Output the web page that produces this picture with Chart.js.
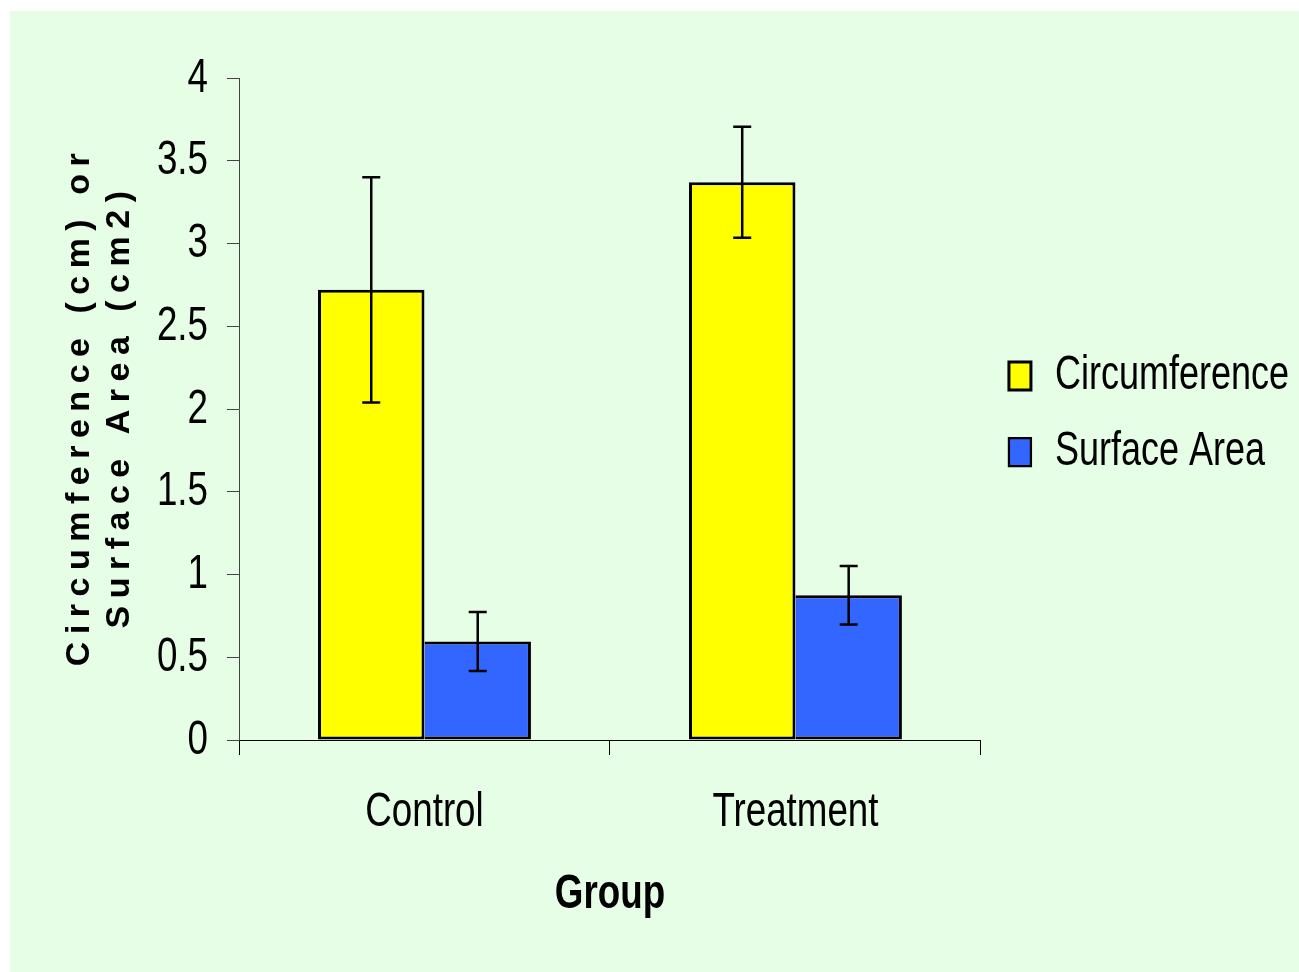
<!DOCTYPE html>
<html>
<head>
<meta charset="utf-8">
<title>Circumference and Surface Area by Group</title>
<script src="https://cdn.jsdelivr.net/npm/chart.js@4/dist/chart.umd.min.js"></script>
<style>
  html, body { margin: 0; padding: 0; background: #ffffff; }
  #wrap {
    position: absolute;
    left: 10px;
    top: 11px;
    width: 1289px;
    height: 961px;
    background: #e6fde6;
  }
  canvas { display: block; }
</style>
</head>
<body>
<div id="wrap"><canvas id="groupChart" width="1289" height="961"></canvas></div>
<script>
// data
const categories = ["Control", "Treatment"];
const circumference = [2.72, 3.37];
const circumferenceErr = [0.68, 0.335];
const surfaceArea = [0.595, 0.875];
const surfaceAreaErr = [0.178, 0.177];
const yTicks = [0, 0.5, 1, 1.5, 2, 2.5, 3, 3.5, 4];
const yTitleLines = ["Circumference (cm) or", "Surface Area (cm2)"];
const xTitle = "Group";

const sans = "'Liberation Sans', Arial, sans-serif";

// the original text is a tall, narrow Arial; no narrow font is installed,
// so the chart's text is squeezed sideways when it is drawn and measured
const squeeze = 0.75;
const canvas = document.getElementById("groupChart");
const ctx = canvas.getContext("2d");
const rawFill = CanvasRenderingContext2D.prototype.fillText;
const rawMeasure = CanvasRenderingContext2D.prototype.measureText;
ctx.fillText = function (text, x, y, maxWidth) {
  this.save();
  this.translate(x, y);
  this.scale(squeeze, 1);
  if (maxWidth === undefined) rawFill.call(this, text, 0, 0);
  else rawFill.call(this, text, 0, 0, maxWidth / squeeze);
  this.restore();
};
ctx.measureText = function (text) {
  const m = rawMeasure.call(this, text);
  return {
    width: m.width * squeeze,
    actualBoundingBoxLeft: m.actualBoundingBoxLeft * squeeze,
    actualBoundingBoxRight: m.actualBoundingBoxRight * squeeze,
    actualBoundingBoxAscent: m.actualBoundingBoxAscent,
    actualBoundingBoxDescent: m.actualBoundingBoxDescent,
  };
};

// error bars drawn on top of each bar
const errorBars = {
  id: "errorBars",
  afterDatasetsDraw(chart) {
    const c = chart.ctx;
    const y = chart.scales.y;
    chart.data.datasets.forEach((ds, i) => {
      const meta = chart.getDatasetMeta(i);
      meta.data.forEach((bar, j) => {
        const v = ds.data[j];
        const e = ds.errors[j];
        const top = y.getPixelForValue(v + e);
        const bot = y.getPixelForValue(v - e);
        c.save();
        c.strokeStyle = "#000";
        c.lineWidth = 2.5;
        c.beginPath();
        c.moveTo(bar.x, top);
        c.lineTo(bar.x, bot);
        c.moveTo(bar.x - 9, top);
        c.lineTo(bar.x + 9, top);
        c.moveTo(bar.x - 9, bot);
        c.lineTo(bar.x + 9, bot);
        c.stroke();
        c.restore();
      });
    });
  }
};

// spaced-out two line y axis title (not squeezed)
const yTitle = {
  id: "yTitle",
  afterDraw(chart) {
    const c = chart.ctx;
    const area = chart.chartArea;
    const cy = (area.top + area.bottom) / 2;
    c.save();
    c.font = "bold 34px " + sans;
    c.letterSpacing = "7.5px";
    c.fillStyle = "#000";
    c.textAlign = "center";
    c.textBaseline = "alphabetic";
    c.translate(79, cy - 3);
    c.rotate(-Math.PI / 2);
    yTitleLines.forEach((t, i) => rawFill.call(c, t, 0, i * 40));
    c.restore();
  }
};

new Chart(ctx, {
  type: "bar",
  data: {
    labels: categories,
    datasets: [
      {
        label: "Circumference",
        data: circumference,
        errors: circumferenceErr,
        backgroundColor: "#ffff00",
        borderColor: "#000",
        borderWidth: 3,
        borderSkipped: false,
      },
      {
        label: "Surface Area",
        data: surfaceArea,
        errors: surfaceAreaErr,
        backgroundColor: "#3366ff",
        borderColor: "#000",
        borderWidth: { top: 3, right: 3, bottom: 3, left: 0 },
        borderSkipped: false,
      },
    ],
  },
  options: {
    responsive: false,
    animation: false,
    devicePixelRatio: 1,
    events: [],
    layout: { padding: { top: 67, right: 0, bottom: 0, left: 0 } },
    datasets: {
      bar: { categoryPercentage: 0.574, barPercentage: 1 },
    },
    scales: {
      x: {
        grid: {
          offset: true,
          drawOnChartArea: false,
          tickLength: 15,
          color: "#000",
        },
        border: { color: "#000", width: 1 },
        ticks: {
          color: "#000",
          padding: 28,
          font: { family: sans, size: 49 },
        },
        title: {
          display: true,
          text: xTitle,
          color: "#000",
          padding: { top: 0, bottom: 48 },
          font: { family: sans, size: 49, weight: "bold" },
        },
        afterFit: (s) => { s.height = 232; },
      },
      y: {
        min: 0,
        max: 4,
        afterBuildTicks: (s) => { s.ticks = yTicks.map((v) => ({ value: v })); },
        grid: {
          drawOnChartArea: false,
          tickLength: 12,
          color: "#444",
        },
        border: { color: "#444", width: 1 },
        ticks: {
          color: "#000",
          padding: 19,
          font: { family: sans, size: 49 },
          callback: (v) => String(v),
        },
        afterFit: (s) => { s.width = 229; },
      },
    },
    plugins: {
      legend: {
        position: "right",
        fullSize: false,
        // empty title only nudges the items a little lower
        title: {
          display: true,
          text: "",
          font: { size: 1 },
          padding: { top: 0, bottom: 9 },
        },
        labels: {
          color: "#000",
          boxWidth: 22,
          boxHeight: 28,
          padding: 28,
          font: { family: sans, size: 48 },
        },
      },
      tooltip: { enabled: false },
    },
  },
  plugins: [errorBars, yTitle],
});
</script>
</body>
</html>
